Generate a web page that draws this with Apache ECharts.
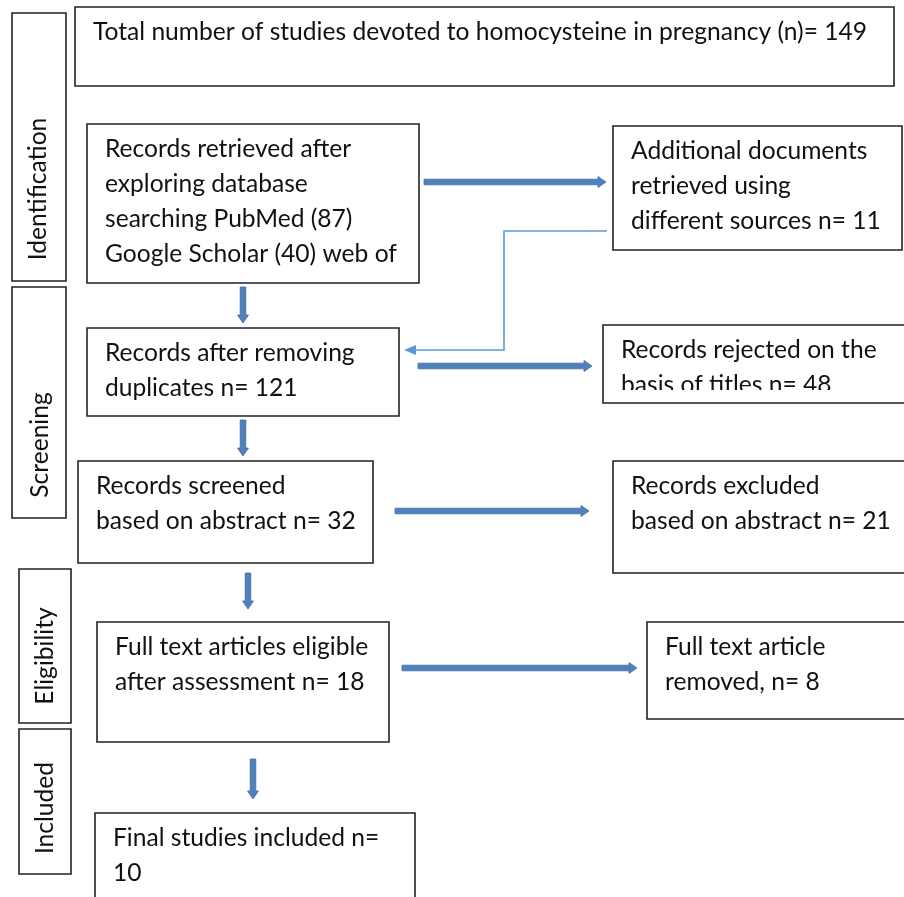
<!DOCTYPE html>
<html>
<head>
<meta charset="utf-8">
<style>html,body{margin:0;padding:0;background:#fff}#chart{width:904px;height:897px}</style>
<script src="https://cdn.jsdelivr.net/npm/echarts@6/dist/echarts.min.js"></script>
</head>
<body>
<div id="chart"></div>
<script>
// PRISMA stages shown on the left side
const stageNames = ['Identification', 'Screening', 'Eligibility', 'Included']

// text of each flow box, one entry per line
const boxTexts = [
  ['Total number of studies devoted to homocysteine in pregnancy (n)= 149'],
  ['Records retrieved after', 'exploring database', 'searching PubMed (87)', 'Google Scholar (40) web of'],
  ['Additional documents', 'retrieved using', 'different sources n= 11'],
  ['Records after removing', 'duplicates n= 121'],
  ['Records rejected on the', 'basis of titles n= 48'],
  ['Records screened', 'based on abstract n= 32'],
  ['Records excluded', 'based on abstract n= 21'],
  ['Full text articles eligible', 'after assessment n= 18'],
  ['Full text article', 'removed, n= 8'],
  ['Final studies included n=', '10']
]

// layout in page units: [x0, y0, x1, y1]
const boxLayout = [
  [75, 7, 894, 86],
  [87, 124, 419, 283],
  [613, 126, 902, 250],
  [87, 328, 399, 416],
  [603, 325, 912, 403],
  [78, 461, 373, 563],
  [613, 461, 912, 573],
  [97, 622, 389, 742],
  [647, 622, 912, 719],
  [95, 813, 415, 912]
]
// where overflowing text gets cut off (box index -> y), as in the source figure
const textCutoff = { 4: 390 }
// [x0, y0, x1, y1, labelX, labelY]
const stageLayout = [
  [12, 13, 66, 281, 38, 189],
  [12, 287, 66, 518, 40, 445],
  [19, 569, 71, 723, 45, 656],
  [19, 729, 71, 874, 45, 808]
]
// thick block arrows [fromX, fromY, toX, toY]
const arrowLayout = [
  [424, 182, 606, 182],
  [243, 287, 243, 323],
  [418, 366, 592, 366],
  [243, 420, 243, 456],
  [395, 511, 589, 511],
  [248, 573, 248, 609],
  [402, 668, 637, 668],
  [253, 759, 253, 799]
]
// thin elbow connector from "Additional documents" into "Records after removing duplicates"
const connectorLayout = [607, 231, 504, 231, 504, 350, 404, 350]

const FONT_FAMILY = 'Lato, "Open Sans", sans-serif'
const FONT_SIZE = 24.6
const LINE_H = 35

function renderBox(params, api) {
  const i = params.dataIndex
  const p0 = api.coord([api.value(0), api.value(1)])
  const p1 = api.coord([api.value(2), api.value(3)])
  const children = [
    {
      type: 'rect',
      shape: { x: p0[0], y: p0[1], width: p1[0] - p0[0], height: p1[1] - p0[1] },
      style: { fill: '#fff', stroke: '#222', lineWidth: 1.6 }
    },
    {
      type: 'text',
      style: {
        x: p0[0] + 18,
        y: p0[1] + 25 - LINE_H / 2,
        text: boxTexts[i].join('\n'),
        fontFamily: FONT_FAMILY,
        fontSize: FONT_SIZE,
        lineHeight: LINE_H,
        verticalAlign: 'top',
        fill: '#111'
      }
    }
  ]
  if (textCutoff[i] != null) {
    const yc = api.coord([0, textCutoff[i]])[1]
    children.push({
      type: 'rect',
      z2: 10,
      shape: { x: p0[0] + 2, y: yc, width: p1[0] - p0[0] - 4, height: p1[1] - yc - 1.5 },
      style: { fill: '#fff' }
    })
  }
  return { type: 'group', children }
}

function renderStage(params, api) {
  const p0 = api.coord([api.value(0), api.value(1)])
  const p1 = api.coord([api.value(2), api.value(3)])
  const c = api.coord([api.value(4), api.value(5)])
  return {
    type: 'group',
    children: [
      {
        type: 'rect',
        shape: { x: p0[0], y: p0[1], width: p1[0] - p0[0], height: p1[1] - p0[1] },
        style: { fill: '#fff', stroke: '#222', lineWidth: 1.6 }
      },
      {
        type: 'text',
        x: c[0],
        y: c[1],
        rotation: Math.PI / 2,
        style: {
          text: stageNames[params.dataIndex],
          fontFamily: FONT_FAMILY,
          fontSize: FONT_SIZE,
          align: 'center',
          verticalAlign: 'middle',
          fill: '#111'
        }
      }
    ]
  }
}

// block arrow outline: shaft half-width, head half-width, head length
function arrowPoints(a, b, shaft, head, len) {
  const dx = b[0] - a[0]
  const dy = b[1] - a[1]
  const L = Math.hypot(dx, dy)
  const ux = dx / L, uy = dy / L
  const nx = -uy, ny = ux
  const bx = b[0] - ux * len, by = b[1] - uy * len
  return [
    [a[0] + nx * shaft, a[1] + ny * shaft],
    [bx + nx * shaft, by + ny * shaft],
    [bx + nx * head, by + ny * head],
    [b[0], b[1]],
    [bx - nx * head, by - ny * head],
    [bx - nx * shaft, by - ny * shaft],
    [a[0] - nx * shaft, a[1] - ny * shaft]
  ]
}

function renderArrow(params, api) {
  const a = api.coord([api.value(0), api.value(1)])
  const b = api.coord([api.value(2), api.value(3)])
  return {
    type: 'polygon',
    shape: { points: arrowPoints(a, b, 2.8, 5.5, 8) },
    style: { fill: '#4f81bd', stroke: '#41709f', lineWidth: 0.8 }
  }
}

function renderConnector(params, api) {
  const pts = []
  for (let k = 0; k < connectorLayout.length; k += 2) {
    pts.push(api.coord([api.value(k), api.value(k + 1)]))
  }
  const tip = pts[pts.length - 1]
  const lineEnd = [tip[0] + 10, tip[1]]
  return {
    type: 'group',
    children: [
      {
        type: 'polyline',
        shape: { points: pts.slice(0, -1).concat([lineEnd]) },
        style: { fill: null, stroke: '#5b9bd5', lineWidth: 1.6 }
      },
      {
        type: 'polygon',
        shape: { points: [tip, [tip[0] + 12, tip[1] - 5], [tip[0] + 12, tip[1] + 5]] },
        style: { fill: '#5b9bd5' }
      }
    ]
  }
}

const chart = echarts.init(document.getElementById('chart'))
chart.setOption({
  animation: false,
  backgroundColor: '#fff',
  grid: { left: 0, right: 0, top: 0, bottom: 0 },
  xAxis: { type: 'value', min: 0, max: 904, show: false },
  yAxis: { type: 'value', min: 0, max: 897, inverse: true, show: false },
  series: [
    { type: 'custom', clip: false, silent: true, renderItem: renderStage, data: stageLayout },
    { type: 'custom', clip: false, silent: true, renderItem: renderBox, data: boxLayout },
    { type: 'custom', clip: false, silent: true, renderItem: renderArrow, data: arrowLayout },
    { type: 'custom', clip: false, silent: true, renderItem: renderConnector, data: [connectorLayout] }
  ]
})
</script>
</body>
</html>
